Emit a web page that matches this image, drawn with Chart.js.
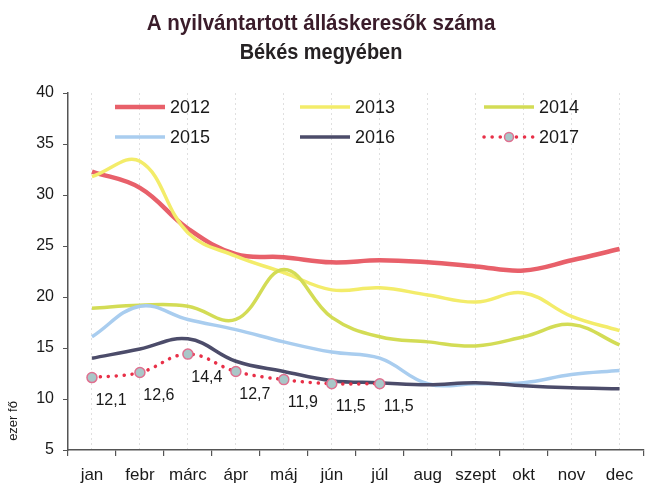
<!DOCTYPE html>
<html><head><meta charset="utf-8">
<script src="https://cdn.jsdelivr.net/npm/chart.js@4.4.1/dist/chart.umd.min.js"></script>
<style>html,body{margin:0;padding:0;background:#fff;overflow:hidden;}#wrap{width:650px;height:486px;}</style>
</head><body><div id="wrap"><canvas id="c" width="650" height="486"></canvas></div>
<script>
const categories = ['jan','febr','márc','ápr','máj','jún','júl','aug','szept','okt','nov','dec'];
const yearLabels = ['2012','2013','2014','2015','2016','2017'];
const v2012 = [32.3, 30.7, 26.7, 24.2, 23.9, 23.4, 23.6, 23.4, 23.0, 22.6, 23.6, 24.7];
const v2013 = [31.8, 33.3, 26.3, 24.0, 22.4, 20.7, 20.9, 20.2, 19.5, 20.4, 18.1, 16.7];
const v2014 = [18.9, 19.2, 19.1, 17.8, 22.7, 18.0, 16.1, 15.6, 15.2, 16.1, 17.3, 15.3];
const v2015 = [16.1, 19.1, 17.8, 16.8, 15.6, 14.6, 14.0, 11.5, 11.5, 11.6, 12.4, 12.8];
const v2016 = [14.0, 14.9, 15.9, 13.7, 12.7, 11.8, 11.6, 11.4, 11.6, 11.3, 11.1, 11.0];
const v2017 = [12.1, 12.6, 14.4, 12.7, 11.9, 11.5, 11.5, null, null, null, null, null];
const yTicks = [5, 10, 15, 20, 25, 30, 35, 40];
const titleLines = ['A nyilvántartott álláskeresők száma', 'Békés megyében'];
const yTitle = 'ezer fő';

const colors = ['#e8606a', '#f3ec6a', '#d3dc55', '#a9cdef', '#4c4c6a', '#e83048'];
const series = [v2012, v2013, v2014, v2015, v2016, v2017];

const datasets = series.map((d, i) => ({
  label: yearLabels[i],
  data: d,
  borderColor: colors[i],
  backgroundColor: colors[i],
  borderWidth: i === 0 ? 4.5 : 3.5,
  tension: 0.4,
  pointRadius: i === 5 ? 5 : 0,
  pointBorderWidth: 1.5,
  pointBackgroundColor: i === 5 ? '#a9c7c8' : colors[i],
  pointBorderColor: i === 5 ? '#e07090' : colors[i],
  borderDash: i === 5 ? [0.1, 8] : [],
  borderCapStyle: i === 5 ? 'round' : 'butt',
  spanGaps: false,
  order: 6 - i,
  xAxisID: 'x',
  yAxisID: 'y'
}));

const textPlugin = {
  id: 'customText',
  afterDraw(chart) {
    const ctx = chart.ctx, a = chart.chartArea;
    ctx.save();
    // title
    ctx.font = 'bold 22px "Liberation Sans", Arial, sans-serif';
    ctx.textAlign = 'center'; ctx.textBaseline = 'middle';
    const tc = ['#3a1c2a', '#262224'];
    [24, 53].forEach((y, k) => {
      ctx.save(); ctx.translate(321, y); ctx.scale(k === 0 ? 0.935 : 0.905, 1);
      ctx.fillStyle = tc[k];
      ctx.fillText(titleLines[k], 0, 0); ctx.restore();
    });
    // y axis title
    ctx.save(); ctx.translate(13, 421); ctx.rotate(-Math.PI / 2);
    ctx.fillStyle = '#1a1a1a';
    ctx.font = '13px "Liberation Sans", Arial, sans-serif';
    ctx.fillText(yTitle, 0, 0); ctx.restore();
    // legend
    const colX = [a.left + 47, a.left + 232, a.left + 416];
    const rowY = [a.top + 14, a.top + 44];
    chart.data.datasets.forEach((ds, i) => {
      const x = colX[i % 3], y = rowY[Math.floor(i / 3)];
      ctx.strokeStyle = ds.borderColor;
      ctx.lineWidth = ds.borderWidth;
      ctx.lineCap = ds.borderCapStyle;
      ctx.setLineDash(ds.borderDash || []);
      ctx.beginPath(); ctx.moveTo(x, y); ctx.lineTo(x + 50, y); ctx.stroke();
      ctx.setLineDash([]);
      if (ds.pointRadius > 0) {
        ctx.beginPath(); ctx.arc(x + 25, y, 4.5, 0, Math.PI * 2);
        ctx.fillStyle = ds.pointBackgroundColor; ctx.fill();
        ctx.lineWidth = 1.5; ctx.strokeStyle = ds.pointBorderColor; ctx.stroke();
      }
      ctx.fillStyle = '#1a1a1a';
      ctx.font = '18px "Liberation Sans", Arial, sans-serif';
      ctx.textBaseline = 'middle'; ctx.textAlign = 'left';
      ctx.fillText(ds.label, x + 55, y + 1);
    });
    ctx.restore();
  }
};

const dataLabelPlugin = {
  id: 'dataLabels2017',
  afterDatasetsDraw(chart) {
    const ctx = chart.ctx;
    const meta = chart.getDatasetMeta(5);
    ctx.save();
    ctx.fillStyle = '#1a1a1a';
    ctx.font = '16px "Liberation Sans", Arial, sans-serif';
    ctx.textAlign = 'center'; ctx.textBaseline = 'middle';
    meta.data.forEach((pt, j) => {
      const v = v2017[j];
      if (v === null || v === undefined) return;
      ctx.fillText(v.toFixed(1).replace('.', ','), pt.x + 19, pt.y + 23);
    });
    ctx.restore();
  }
};

new Chart(document.getElementById('c'), {
  type: 'line',
  data: { labels: categories, datasets },
  options: {
    responsive: false,
    animation: false,
    layout: { padding: { left: 0, right: 0, top: 93, bottom: 0 } },
    plugins: {
      legend: { display: false },
      tooltip: { enabled: false },
      title: { display: false }
    },
    scales: {
      x: {
        type: 'category',
        position: 'bottom',
        offset: true,
        grid: { offset: true, drawOnChartArea: false, drawTicks: true, tickLength: 6, color: '#555', lineWidth: 1.2 },
        border: { display: true, color: '#555', width: 1.5 },
        ticks: { color: '#1a1a1a', font: { family: '"Liberation Sans", Arial, sans-serif', size: 17 }, padding: 9, maxRotation: 0, autoSkip: false },
        afterFit(s) { s.height = 36; }
      },
      x2: {
        type: 'category',
        position: 'top',
        offset: true,
        grid: { offset: false, drawOnChartArea: true, drawTicks: false, color: 'rgba(0,0,0,0.12)', lineWidth: 1 },
        border: { display: false, dash: [2, 3] },
        ticks: { display: false },
        afterFit(s) { s.height = 0; }
      },
      y: {
        type: 'linear',
        min: 5, max: 40,
        afterBuildTicks(s) { s.ticks = yTicks.map(v => ({ value: v })); },
        grid: { drawOnChartArea: false, drawTicks: true, tickLength: 5, color: '#555' },
        border: { display: true, color: '#555', width: 1.5 },
        ticks: { color: '#1a1a1a', font: { family: '"Liberation Sans", Arial, sans-serif', size: 16 }, padding: 9 },
        afterFit(s) { s.width = 68; }
      }
    }
  },
  plugins: [textPlugin, dataLabelPlugin]
});
</script></body></html>
